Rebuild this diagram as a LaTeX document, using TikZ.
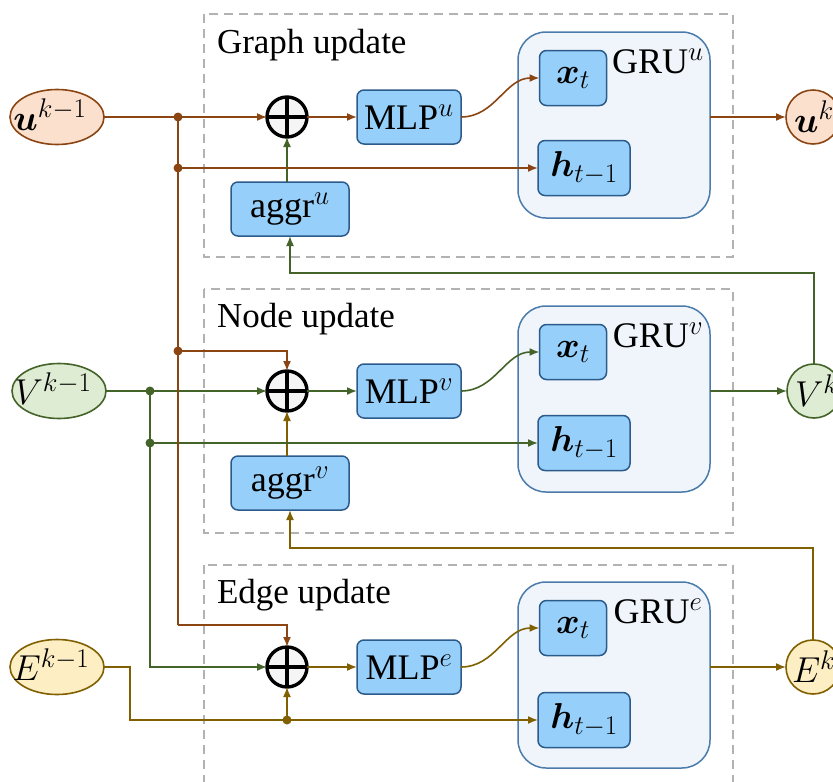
\RequirePackage{fix-cm}
\documentclass[tikz,border=0pt]{standalone}
\usepackage{amsmath,bm}
\usepackage{fontspec}
\setmainfont{Liberation Serif}
\DeclareMathSizes{36}{36}{27}{20}
\usetikzlibrary{arrows.meta,calc,shapes.geometric}
\definecolor{cbrown}{RGB}{139,69,19}
\definecolor{cgreen}{RGB}{67,99,41}
\definecolor{colive}{RGB}{128,96,0}
\definecolor{fbrown}{RGB}{251,224,206}
\definecolor{fgreen}{RGB}{223,236,212}
\definecolor{folive}{RGB}{253,238,196}
\definecolor{bfill}{RGB}{150,208,250}
\definecolor{bdraw}{RGB}{44,90,138}
\definecolor{gfill}{RGB}{239,245,251}
\definecolor{gdraw}{RGB}{74,123,170}
\definecolor{dgray}{RGB}{178,178,178}
\begin{document}
\begin{tikzpicture}[x=1pt,y=-1pt,
  every node/.style={inner sep=0pt,outer sep=0pt},
  bigfont/.style={font=\fontsize{36}{42}\selectfont},
  sectitle/.style={font=\fontsize{35}{42}\selectfont,anchor=base west},
  secbox/.style={draw=dgray,dash pattern=on 9pt off 6pt,line width=1.6pt},
  bluebox/.style={draw=bdraw,fill=bfill,rounded corners=7pt,line width=1.5pt,bigfont},
  grubox/.style={draw=gdraw,fill=gfill,rounded corners=28pt,line width=1.5pt,minimum width=192pt,minimum height=186pt},
  oplusnode/.style={circle,draw=black,fill=gray!8,line width=3.4pt,minimum size=40pt,
    path picture={\draw[line width=3.4pt] (path picture bounding box.north) -- (path picture bounding box.south)
      (path picture bounding box.west) -- (path picture bounding box.east);}},
  conn/.style={line width=1.6pt,-{Latex[length=10pt,width=8pt]}},
  wire/.style={line width=1.6pt},
  jdot/.style={circle,minimum size=9pt,fill},
  inell/.style={ellipse,minimum width=94pt,minimum height=55pt,line width=1.6pt},
  outcirc/.style={circle,minimum size=54pt,line width=1.6pt},
  mlpbox/.style={bluebox,minimum width=104pt,minimum height=54pt},
  aggrbox/.style={bluebox,minimum width=118pt,minimum height=54pt},
  xbox/.style={bluebox,minimum width=67pt,minimum height=55pt},
  hbox/.style={bluebox,minimum width=92pt,minimum height=55pt}
]
\clip (0,0) rectangle (833,782);

% section boxes
\draw[secbox] (204,14) rectangle (733,257);
\draw[secbox] (204,289) rectangle (733,533);
\draw[secbox] (204,565) rectangle (733,800);
\node[sectitle] (tg) at (217,53) {Graph update};
\node[sectitle] (tn) at (217,327) {Node update};
\node[sectitle] (te) at (217,603) {Edge update};

% inputs
\node[inell,draw=cbrown,fill=fbrown] (uin) at (57,117) {};
\node[bigfont] (uinT) at (50,115) {$\bm{u}^{k-1}$};
\node[inell,draw=cgreen,fill=fgreen] (vin) at (59,391) {};
\node[bigfont] (vinT) at (53,389) {$V^{k-1}$};
\node[inell,draw=colive,fill=folive] (ein) at (57,667) {};
\node[bigfont] (einT) at (51,665) {$E^{k-1}$};

% outputs
\node[outcirc,draw=cbrown,fill=fbrown] (uout) at (813,117) {};
\node[bigfont,anchor=west] (uoutT) at (794,117) {$\bm{u}^{k}$};
\node[outcirc,draw=cgreen,fill=fgreen] (vout) at (814,391) {};
\node[bigfont,anchor=west] (voutT) at (795,391) {$V^{k}$};
\node[outcirc,draw=colive,fill=folive] (eout) at (813,667) {};
\node[bigfont,anchor=west] (eoutT) at (792,667) {$E^{k}$};

% oplus
\node[oplusnode] (opg) at (287,117) {};
\node[oplusnode] (opn) at (287,391) {};
\node[oplusnode] (ope) at (287,667) {};

% MLP
\node[mlpbox] (mlpg) at (409,117) {MLP$^{u}$};
\node[mlpbox] (mlpn) at (409,391) {MLP$^{v}$};
\node[mlpbox] (mlpe) at (409,667) {MLP$^{e}$};

% aggr
\node[aggrbox] (aggrg) at (290,209) {aggr$^{u}$};
\node[aggrbox] (aggrn) at (290,483) {aggr$^{v}$};

% GRU
\node[grubox] (grug) at (614,125) {};
\node[grubox] (grun) at (614,399) {};
\node[grubox] (grue) at (614,675) {};
\node[bigfont] (grugL) at (658,61) {GRU$^{u}$};
\node[bigfont] (grunL) at (658,335) {GRU$^{v}$};
\node[bigfont] (grueL) at (658,611) {GRU$^{e}$};
\node[xbox] (xg) at (573,78) {$\bm{x}_t$};
\node[xbox] (xn) at (573,352) {$\bm{x}_t$};
\node[xbox] (xe) at (573,628) {$\bm{x}_t$};
\node[hbox] (hg) at (584,168) {$\bm{h}_{t-1}$};
\node[hbox] (hn) at (584,443) {$\bm{h}_{t-1}$};
\node[hbox] (he) at (584,720) {$\bm{h}_{t-1}$};

% row internals
\draw[conn,cbrown] (opg.east) -- (mlpg.west);
\draw[conn,cgreen] (opn.east) -- (mlpn.west);
\draw[conn,colive] (ope.east) -- (mlpe.west);
\draw[conn,cbrown] (mlpg.east) to[out=0,in=180] (xg.west);
\draw[conn,cgreen] (mlpn.east) to[out=0,in=180] (xn.west);
\draw[conn,colive] (mlpe.east) to[out=0,in=180] (xe.west);
\draw[conn,cbrown] (grug.east |- uout.west) -- (uout.west);
\draw[conn,cgreen] (grun.east |- vout.west) -- (vout.west);
\draw[conn,colive] (grue.east |- eout.west) -- (eout.west);
\draw[conn,cgreen] (aggrg.north -| opg) -- (opg.south);
\draw[conn,colive] (aggrn.north -| opn) -- (opn.south);

% feedback
\coordinate (fbg) at (290,273);
\coordinate (fbn) at (290,548);
\draw[conn,cgreen] (vout.north) |- (fbg) -- (aggrg.south);
\draw[conn,colive] (eout.north) |- (fbn) -- (aggrn.south);

% node row (green)
\coordinate (jn1) at (150,391);
\coordinate (jn2) at (150,443);
\draw[conn,cgreen] (vin.east) -- (opn.west);
\draw[conn,cgreen] (jn1) |- (ope.west);
\draw[conn,cgreen] (jn2) -- (hn.west);
\node[jdot,cgreen] (dn1) at (jn1) {};
\node[jdot,cgreen] (dn2) at (jn2) {};

% edge row (olive)
\coordinate (je1) at (130,667);
\coordinate (je2) at (130,720);
\coordinate (je3) at (287,720);
\draw[conn,colive] (ein.east) -- (je1) -- (je2) -- (he.west);
\draw[conn,colive] (je3) -- (ope.south);
\node[jdot,colive] (de3) at (je3) {};

% graph row (brown)
\coordinate (jg1) at (178,117);
\coordinate (jg2) at (178,168);
\coordinate (jg3) at (178,351);
\coordinate (jg4) at (178,625);
\draw[conn,cbrown] (uin.east) -- (opg.west);
\draw[wire,cbrown] (jg1) -- (jg4);
\draw[conn,cbrown] (jg4) -| (ope.north);
\draw[conn,cbrown] (jg3) -| (opn.north);
\draw[conn,cbrown] (jg2) -- (hg.west);
\node[jdot,cbrown] (dg1) at (jg1) {};
\node[jdot,cbrown] (dg2) at (jg2) {};
\node[jdot,cbrown] (dg3) at (jg3) {};
\end{tikzpicture}
\end{document}
